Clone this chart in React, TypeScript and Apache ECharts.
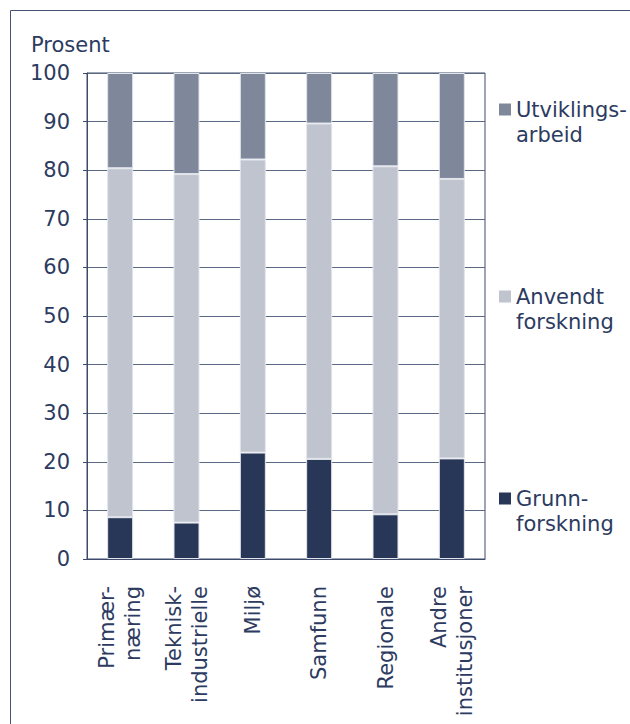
import React, { useEffect, useRef } from "react";
import * as echarts from "echarts";

const categories = [
  "Primær-\nnæring",
  "Teknisk-\nindustrielle",
  "Miljø",
  "Samfunn",
  "Regionale",
  "Andre\ninstitusjoner",
];
const grunnforskning = [8.6, 7.5, 21.9, 20.6, 9.2, 20.7];
const anvendtForskning = [71.8, 71.7, 60.3, 69.0, 71.6, 57.5];
const utviklingsarbeid = [19.6, 20.8, 17.8, 10.4, 19.2, 21.8];
const seriesNames = ["Grunn-\nforskning", "Anvendt\nforskning", "Utviklings-\narbeid"];
const yTicks = { min: 0, max: 100, interval: 10 };

const TEXT = "#2c3b5f";
const AXIS = "#3d4a6b";
const FONT = "DejaVu Sans";
const FS = 21;
const ICON =
  "path://M0,0h0.01v0.01h-0.01z M0,6.5h12v12h-12z M0,49.99h0.01v0.01h-0.01z";

export default function App() {
  const ref = useRef<HTMLDivElement>(null);
  useEffect(() => {
    if (!ref.current) return;
    const chart = echarts.init(ref.current, null, { renderer: "svg" });
    const legendBase = {
      orient: "vertical",
      left: 499,
      padding: 0,
      icon: ICON,
      itemWidth: 12,
      itemHeight: 50,
      itemStyle: { borderWidth: 0 },
      textStyle: { color: TEXT, fontFamily: FONT, fontSize: FS, lineHeight: 25 },
    };
    const barStyle = (color: string) => ({
      color,
      borderColor: "#e2e5eb",
      borderWidth: 1,
    });
    chart.setOption({
      animation: false,
      textStyle: { fontFamily: FONT },
      title: {
        text: "Prosent",
        left: 31,
        top: 34,
        padding: 0,
        textStyle: { color: TEXT, fontFamily: FONT, fontSize: FS, fontWeight: "normal" },
      },
      graphic: [
        {
          type: "rect",
          shape: { x: 10.5, y: 10.5, width: 800, height: 900 },
          style: { fill: "none", stroke: "#46526f", lineWidth: 1 },
          silent: true,
        },
      ],
      legend: [
        { ...legendBase, top: 97, data: [seriesNames[2]] },
        { ...legendBase, top: 284, data: [seriesNames[1]] },
        { ...legendBase, top: 486, data: [seriesNames[0]] },
      ],
      grid: {
        left: 87,
        right: 145,
        top: 73,
        bottom: 165,
        show: true,
        borderColor: AXIS,
        borderWidth: 1,
        backgroundColor: "transparent",
      },
      xAxis: {
        type: "category",
        data: categories,
        axisLine: { lineStyle: { color: AXIS, width: 1 } },
        axisTick: { show: false },
        axisLabel: {
          rotate: 90,
          margin: 27,
          color: TEXT,
          fontFamily: FONT,
          fontSize: FS,
          lineHeight: 26,
          interval: 0,
        },
      },
      yAxis: {
        type: "value",
        min: yTicks.min,
        max: yTicks.max,
        interval: yTicks.interval,
        axisLine: { show: true, lineStyle: { color: AXIS, width: 1 } },
        axisTick: { show: true, length: 4, lineStyle: { color: AXIS } },
        axisLabel: { color: TEXT, fontFamily: FONT, fontSize: FS, margin: 17 },
        splitLine: { show: true, lineStyle: { color: "#5c6784", width: 1 } },
      },
      series: [
        {
          name: seriesNames[0],
          type: "bar",
          stack: "total",
          barWidth: 26,
          data: grunnforskning,
          itemStyle: barStyle("#283758"),
        },
        {
          name: seriesNames[1],
          type: "bar",
          stack: "total",
          barWidth: 26,
          data: anvendtForskning,
          itemStyle: barStyle("#c0c4cf"),
        },
        {
          name: seriesNames[2],
          type: "bar",
          stack: "total",
          barWidth: 26,
          data: utviklingsarbeid,
          itemStyle: barStyle("#7f879b"),
        },
      ],
    });
    return () => chart.dispose();
  }, []);
  return (
    <div
      ref={ref}
      style={{ position: "absolute", left: 0, top: 0, width: 630, height: 724, background: "#fff" }}
    />
  );
}
